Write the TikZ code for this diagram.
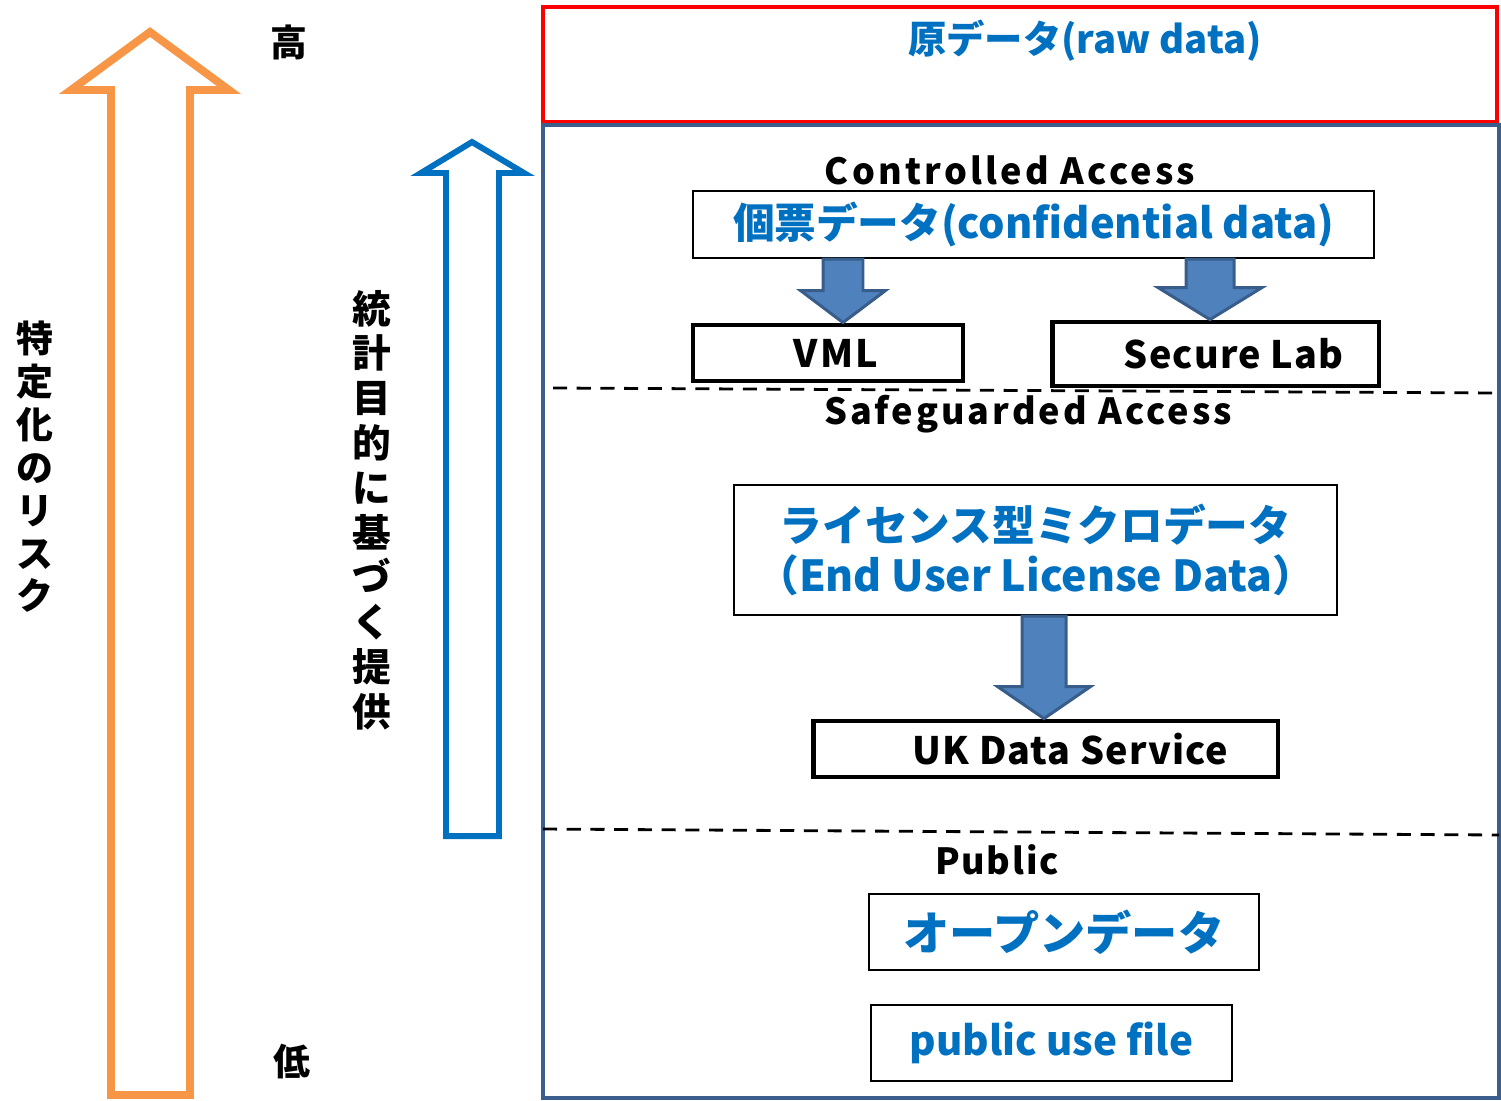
\documentclass[tikz,border=0pt]{standalone}
\usepackage{fontspec}
\setmainfont{Noto Sans CJK JP}
\usepackage{xcolor}
\usetikzlibrary{calc}

\definecolor{riskorange}{HTML}{F79646}
\definecolor{useblue}{HTML}{0070C0}
\definecolor{rawred}{HTML}{FF0000}
\definecolor{framegray}{HTML}{3B5E8C}
\definecolor{arrowfill}{HTML}{4F81BD}
\definecolor{arrowedge}{HTML}{385D8A}

\newcommand{\blockarrow}[4]{%
  \filldraw[fill=arrowfill, draw=arrowedge, line width=1.7pt]
    let \p1=(#1), \p2=(#2) in
    (\x1-#3,\y1) -- (\x1-#3,\y2+0.64cm) -- (\x1-#4,\y2+0.64cm) -- (\x2,\y2)
    -- (\x1+#4,\y2+0.64cm) -- (\x1+#3,\y2+0.64cm) -- (\x1+#3,\y1) -- cycle;}

\tikzset{
  databox/.style={draw, line width=1.2pt, text=useblue},
  sitebox/.style={draw, line width=2.8pt},
  bluetext/.style={text=useblue, font=\bfseries\fontsize{#1}{#1}\selectfont},
  blacktext/.style 2 args={font=\bfseries\fontsize{#1}{#1}\selectfont\addfontfeatures{LetterSpace=#2}},
  divider/.style={line width=1.6pt, dash pattern=on 8pt off 5.5pt}
}

\begin{document}
\begin{tikzpicture}[x=0.02cm,y=-0.02cm]
  \useasboundingbox (0,0) rectangle (1501,1100);

  \draw[riskorange, line width=4.5pt, line join=miter]
    (111,1095) -- (111,90) -- (71,90) -- (150,32) -- (229,90) -- (190,90) -- (190,1095) -- cycle;
  \draw[useblue, line width=3.4pt, line join=miter]
    (446,836) -- (446,173) -- (421,173) -- (472,142) -- (524,173) -- (499,173) -- (499,836) -- cycle;

  \node[blacktext={21pt}{0}] (high) at (289,42) {高};
  \node[blacktext={21pt}{0}] (low) at (292,1062) {低};
  \node[align=center, font=\bfseries\fontsize{21pt}{24.4pt}\selectfont] (risk) at (35,467)
    {特\\定\\化\\の\\リ\\ス\\ク};
  \node[align=center, font=\bfseries\fontsize{22pt}{25.5pt}\selectfont] (purpose) at (372,510)
    {統\\計\\目\\的\\に\\基\\づ\\く\\提\\供};

  \draw[rawred, line width=2.8pt] (543,7) rectangle (1497,122);
  \draw[framegray, line width=2.2pt] (543,125) rectangle (1499,1098);
  \node[bluetext=21.8pt] (raw) at (1085,41) {原データ(raw data)};

  \node[blacktext={20.5pt}{9}] (controlled) at (1010,170) {Controlled Access};
  \node[databox, minimum width=13.62cm, minimum height=1.34cm, bluetext=23.7pt] (conf) at (1033.5,224.5)
    {個票データ(confidential data)};
  \node[sitebox, minimum width=5.4cm, minimum height=1.12cm, blacktext={21.5pt}{6}] (vml) at (828,353)
    {\hspace*{0.32cm}VML};
  \node[sitebox, minimum width=6.54cm, minimum height=1.28cm, blacktext={21.5pt}{3}] (seclab) at (1215.5,354)
    {\hspace*{0.72cm}Secure Lab};
  \path (843,0) coordinate (vmlx) (1210,0) coordinate (labx) (1044,0) coordinate (ukx);
  \blockarrow{conf.south -| vmlx}{vml.north -| vmlx}{0.4cm}{0.85cm}
  \blockarrow{conf.south -| labx}{seclab.north -| labx}{0.48cm}{1.04cm}

  \draw[divider] (553,388) -- (1499,393);
  \node[blacktext={20.5pt}{8.5}] (safeguarded) at (1028,414) {Safeguarded Access};
  \node[databox, minimum width=12.06cm, minimum height=2.6cm, align=center,
        font=\bfseries\fontsize{24.3pt}{28pt}\selectfont] (lic) at (1035.5,550)
    {ライセンス型ミクロデータ\\（End User License Data）};
  \node[sitebox, minimum width=9.3cm, minimum height=1.12cm, blacktext={21.5pt}{3}] (ukds) at (1045.5,749)
    {\hspace*{1cm}UK Data Service};
  \blockarrow{lic.south -| ukx}{ukds.north -| ukx}{0.44cm}{0.93cm}

  \draw[divider] (543,829) -- (1499,835);
  \node[blacktext={20.5pt}{5}] (public) at (997,860) {Public};
  \node[databox, minimum width=7.8cm, minimum height=1.52cm, bluetext=26.3pt] (open) at (1064,932)
    {オープンデータ};
  \node[databox, minimum width=7.22cm, minimum height=1.52cm, bluetext=23pt] (puf) at (1051.5,1043)
    {public use file};
\end{tikzpicture}
\end{document}
